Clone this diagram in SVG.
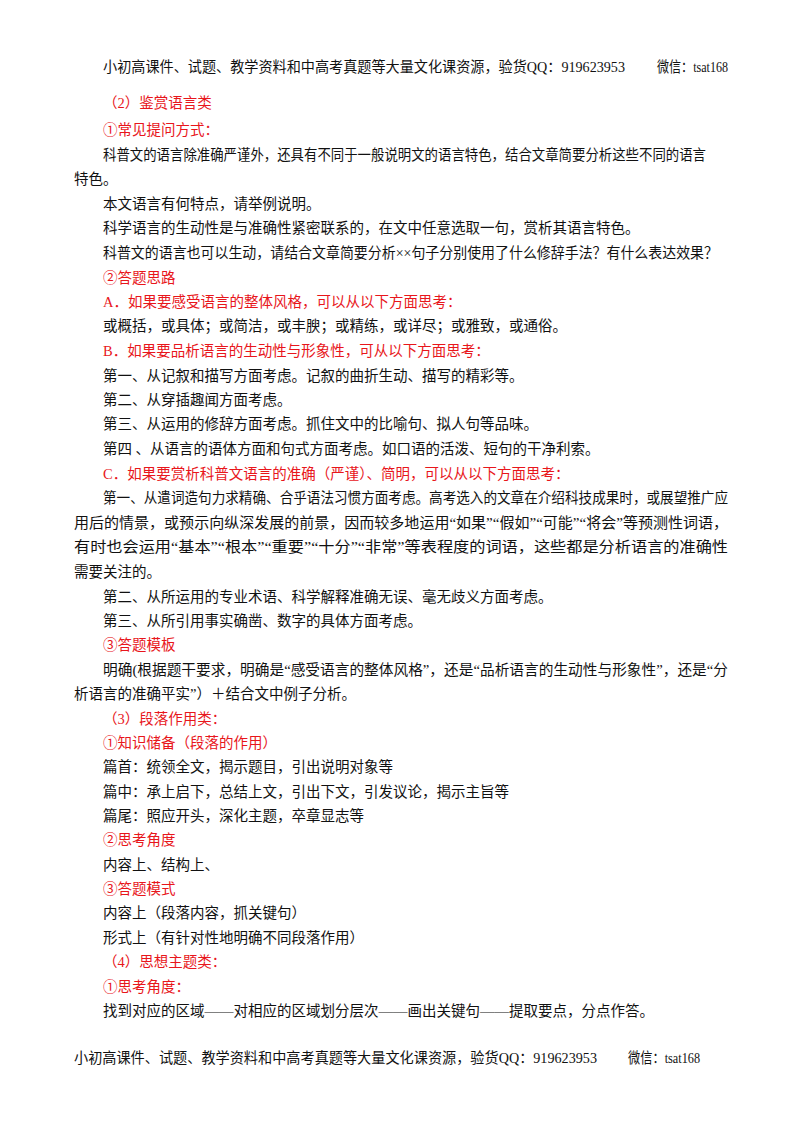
<svg xmlns="http://www.w3.org/2000/svg" width="800" height="1132" viewBox="0 0 800 1132">
<style>
text{font-family:"Liberation Serif","Noto Sans CJK SC",serif;font-size:14.5px;fill:#111}
.r{fill:#e8161b}
</style>
<rect width="800" height="1132" fill="#fff"/>
<g id="header"><text x="103" y="72" textLength="522" lengthAdjust="spacingAndGlyphs">小初高课件、试题、教学资料和中高考真题等大量文化课资源，验货QQ：919623953</text><text x="657" y="72" textLength="71" lengthAdjust="spacingAndGlyphs">微信：tsat168</text></g>
<g id="body">
<text class="r" x="103" y="108">（2）鉴赏语言类</text>
<text class="r" x="103" y="135">①常见提问方式：</text>
<text x="103" y="160" textLength="603" lengthAdjust="spacingAndGlyphs">科普文的语言除准确严谨外，还具有不同于一般说明文的语言特色，结合文章简要分析这些不同的语言</text>
<text x="74" y="184">特色。</text>
<text x="103" y="209">本文语言有何特点，请举例说明。</text>
<text x="103" y="233">科学语言的生动性是与准确性紧密联系的，在文中任意选取一句，赏析其语言特色。</text>
<text x="103" y="258" textLength="615" lengthAdjust="spacingAndGlyphs">科普文的语言也可以生动，请结合文章简要分析××句子分别使用了什么修辞手法？有什么表达效果？</text>
<text class="r" x="103" y="283">②答题思路</text>
<text class="r" x="103" y="307">A．如果要感受语言的整体风格，可以从以下方面思考：</text>
<text x="103" y="331">或概括，或具体；或简洁，或丰腴；或精练，或详尽；或雅致，或通俗。</text>
<text class="r" x="103" y="356">B．如果要品析语言的生动性与形象性，可从以下方面思考：</text>
<text x="103" y="381">第一、从记叙和描写方面考虑。记叙的曲折生动、描写的精彩等。</text>
<text x="103" y="405">第二、从穿插趣闻方面考虑。</text>
<text x="103" y="429">第三、从运用的修辞方面考虑。抓住文中的比喻句、拟人句等品味。</text>
<text x="103" y="454">第四 、从语言的语体方面和句式方面考虑。如口语的活泼、短句的干净利索。</text>
<text class="r" x="103" y="479">C．如果要赏析科普文语言的准确（严谨）、简明，可以从以下方面思考：</text>
<text x="103" y="503" textLength="625" lengthAdjust="spacingAndGlyphs">第一、从遣词造句力求精确、合乎语法习惯方面考虑。高考选入的文章在介绍科技成果时，或展望推广应</text>
<text x="74" y="528" textLength="654" lengthAdjust="spacingAndGlyphs">用后的情景，或预示向纵深发展的前景，因而较多地运用“如果”“假如”“可能”“将会”等预测性词语，</text>
<text x="74" y="552" textLength="654" lengthAdjust="spacingAndGlyphs">有时也会运用“基本”“根本”“重要”“十分”“非常”等表程度的词语，这些都是分析语言的准确性</text>
<text x="74" y="577">需要关注的。</text>
<text x="103" y="602">第二、从所运用的专业术语、科学解释准确无误、毫无歧义方面考虑。</text>
<text x="103" y="626">第三、从所引用事实确凿、数字的具体方面考虑。</text>
<text class="r" x="103" y="650">③答题模板</text>
<text x="103" y="675" textLength="625" lengthAdjust="spacingAndGlyphs">明确(根据题干要求，明确是“感受语言的整体风格”，还是“品析语言的生动性与形象性”，还是“分</text>
<text x="74" y="699">析语言的准确平实”）＋结合文中例子分析。</text>
<text class="r" x="103" y="724">（3）段落作用类：</text>
<text class="r" x="103" y="748">①知识储备（段落的作用）</text>
<text x="103" y="772">篇首：统领全文，揭示题目，引出说明对象等</text>
<text x="103" y="797">篇中：承上启下，总结上文，引出下文，引发议论，揭示主旨等</text>
<text x="103" y="821">篇尾：照应开头，深化主题，卒章显志等</text>
<text class="r" x="103" y="845">②思考角度</text>
<text x="103" y="870">内容上、结构上、</text>
<text class="r" x="103" y="894">③答题模式</text>
<text x="103" y="918">内容上（段落内容，抓关键句）</text>
<text x="103" y="943">形式上（有针对性地明确不同段落作用）</text>
<text class="r" x="103" y="967">（4）思想主题类：</text>
<text class="r" x="103" y="992">①思考角度：</text>
<text x="103" y="1016">找到对应的区域——对相应的区域划分层次——画出关键句——提取要点，分点作答。</text>
</g>
<g id="footer"><text x="74" y="1063" textLength="523" lengthAdjust="spacingAndGlyphs">小初高课件、试题、教学资料和中高考真题等大量文化课资源，验货QQ：919623953</text><text x="628" y="1063" textLength="72" lengthAdjust="spacingAndGlyphs">微信：tsat168</text></g>
</svg>
